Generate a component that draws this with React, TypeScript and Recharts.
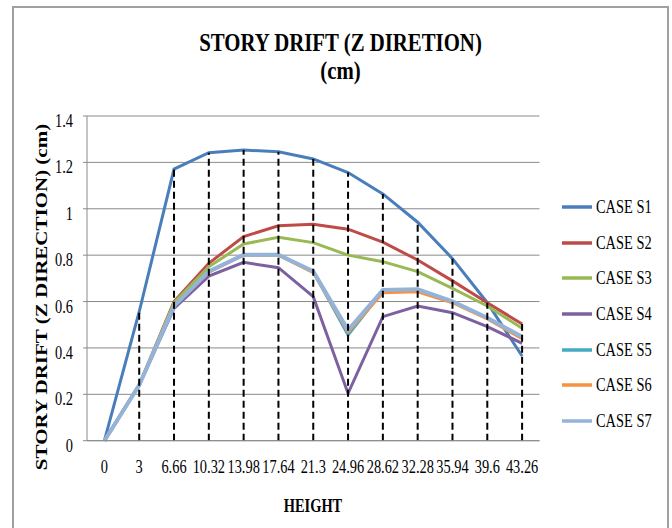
import { CartesianGrid, Legend, Line, LineChart, ReferenceLine, XAxis, YAxis } from 'recharts'

const HEIGHTS = ['0', '3', '6.66', '10.32', '13.98', '17.64', '21.3', '24.96', '28.62', '32.28', '35.94', '39.6', '43.26']

const CASE_S1 = [0, 0.556, 1.171, 1.242, 1.253, 1.246, 1.215, 1.156, 1.064, 0.942, 0.785, 0.595, 0.365]
const CASE_S2 = [0, 0.24, 0.6, 0.765, 0.88, 0.927, 0.933, 0.912, 0.856, 0.779, 0.689, 0.595, 0.503]
const CASE_S3 = [0, 0.24, 0.595, 0.75, 0.848, 0.877, 0.854, 0.8, 0.772, 0.729, 0.657, 0.581, 0.485]
const CASE_S4 = [0, 0.24, 0.57, 0.71, 0.769, 0.746, 0.621, 0.204, 0.535, 0.581, 0.552, 0.492, 0.42]
const CASE_S5 = [0, 0.24, 0.58, 0.729, 0.801, 0.801, 0.729, 0.456, 0.645, 0.648, 0.598, 0.528, 0.446]
const CASE_S6 = [0, 0.24, 0.58, 0.727, 0.8, 0.8, 0.725, 0.468, 0.638, 0.642, 0.595, 0.525, 0.44]
const CASE_S7 = [0, 0.24, 0.58, 0.73, 0.802, 0.802, 0.73, 0.477, 0.65, 0.653, 0.601, 0.53, 0.448]

const Y_TICKS = [0, 0.2, 0.4, 0.6, 0.8, 1, 1.2, 1.4]

const SERIES = [
  { key: 's1', name: 'CASE S1', values: CASE_S1, color: '#4A7EBB', width: 3 },
  { key: 's2', name: 'CASE S2', values: CASE_S2, color: '#BE4B48', width: 3 },
  { key: 's3', name: 'CASE S3', values: CASE_S3, color: '#98B954', width: 3 },
  { key: 's4', name: 'CASE S4', values: CASE_S4, color: '#7D60A0', width: 3 },
  { key: 's5', name: 'CASE S5', values: CASE_S5, color: '#46AAC5', width: 3 },
  { key: 's6', name: 'CASE S6', values: CASE_S6, color: '#F69240', width: 3 },
  { key: 's7', name: 'CASE S7', values: CASE_S7, color: '#95B3D7', width: 4 },
]

const data = HEIGHTS.map((h, i) => {
  const row: Record<string, string | number> = { h }
  SERIES.forEach((s) => {
    row[s.key] = s.values[i]
  })
  return row
})

// drop lines go from the axis up to the highest series at each height
const drops = HEIGHTS.map((h, i) => ({ h, top: Math.max(...SERIES.map((s) => s.values[i])) })).filter(
  (d) => d.top > 0,
)

const FONT = '"Liberation Serif", "Times New Roman", serif'
const SQUEEZE = 0.8

function YTick({ x, y, payload }: any) {
  return (
    <text
      transform={`translate(${x},${y + 11}) scale(${SQUEEZE},1)`}
      textAnchor="end"
      fontSize={18}
      fontFamily={FONT}
      fill="#000"
    >
      {payload.value}
    </text>
  )
}

function XTick({ x, y, payload }: any) {
  return (
    <text
      transform={`translate(${x},${y + 32}) scale(${SQUEEZE},1)`}
      textAnchor="middle"
      fontSize={18}
      fontFamily={FONT}
      fill="#000"
    >
      {payload.value}
    </text>
  )
}

function YTitle() {
  return (
    <text
      transform="translate(46.7,297) rotate(-90) scale(1,0.8)"
      textAnchor="middle"
      fontSize={21}
      fontWeight="bold"
      fontFamily={FONT}
      fill="#000"
    >
      STORY DRIFT (Z DIRECTION) (cm)
    </text>
  )
}

function XTitle() {
  return (
    <text
      transform={`translate(313,511.7) scale(${SQUEEZE},1)`}
      textAnchor="middle"
      fontSize={18}
      fontWeight="bold"
      fontFamily={FONT}
      fill="#000"
    >
      HEIGHT
    </text>
  )
}

function LegendBox() {
  return (
    <div style={{ fontFamily: FONT }}>
      {SERIES.map((s) => (
        <div key={s.key} style={{ height: 35.7, display: 'flex', alignItems: 'center' }}>
          <svg width={30} height={6} style={{ marginLeft: 22, flexShrink: 0 }}>
            <line x1={0} y1={3} x2={30} y2={3} stroke={s.color} strokeWidth={3.5} />
          </svg>
          <span
            style={{
              display: 'inline-block',
              marginLeft: 4,
              fontSize: 18,
              lineHeight: '20px',
              transform: `scaleX(${SQUEEZE})`,
              transformOrigin: 'left center',
              whiteSpace: 'nowrap',
              color: '#000',
            }}
          >
            {s.name}
          </span>
        </div>
      ))}
    </div>
  )
}

export default function App() {
  return (
    <div
      style={{
        position: 'absolute',
        left: 0,
        top: 0,
        width: 672,
        height: 528,
        overflow: 'hidden',
        background: '#fff',
      }}
    >
      <div
        style={{
          position: 'absolute',
          left: 12,
          top: 6,
          width: 657,
          height: 600,
          boxSizing: 'border-box',
          border: '2px solid #a0a0a0',
        }}
      />
      <div
        style={{
          position: 'absolute',
          left: 0,
          top: 28.9,
          width: 681,
          textAlign: 'center',
          fontFamily: FONT,
          fontWeight: 'bold',
          fontSize: 26,
          lineHeight: '28px',
          transform: 'scaleX(0.8)',
          transformOrigin: '340.5px 0',
          color: '#000',
        }}
      >
        <div>STORY DRIFT (Z DIRETION)</div>
        <div>(cm)</div>
      </div>
      <LineChart width={672} height={528} data={data} margin={{ top: 116, right: 22.5, bottom: 57.3, left: 27 }}>
        <CartesianGrid vertical={false} stroke="#8a8a8a" />
        <XAxis
          dataKey="h"
          type="category"
          interval={0}
          height={30}
          padding={{ left: 17.4, right: 17.4 }}
          axisLine={{ stroke: '#8a8a8a' }}
          tickLine={false}
          tickSize={0}
          tickMargin={0}
          tick={<XTick />}
          label={<XTitle />}
        />
        <YAxis
          width={60}
          domain={[0, 1.4]}
          ticks={Y_TICKS}
          interval={0}
          axisLine={{ stroke: '#8a8a8a' }}
          tickLine={{ stroke: '#8a8a8a' }}
          tickSize={4}
          tickMargin={10}
          tick={<YTick />}
          label={<YTitle />}
        />
        <Legend
          layout="vertical"
          align="right"
          verticalAlign="top"
          width={110}
          wrapperStyle={{ top: 189, left: 539.5, width: 110 }}
          content={() => <LegendBox />}
        />
        {SERIES.map((s) => (
          <Line
            key={s.key}
            type="linear"
            dataKey={s.key}
            name={s.name}
            stroke={s.color}
            strokeWidth={s.width}
            dot={false}
            activeDot={false}
            isAnimationActive={false}
          />
        ))}
        {drops.map((d) => (
          <ReferenceLine
            key={d.h}
            segment={[
              { x: d.h, y: 0 },
              { x: d.h, y: d.top },
            ]}
            stroke="#000"
            strokeWidth={2}
            strokeDasharray="7 4"
          />
        ))}
      </LineChart>
    </div>
  )
}
